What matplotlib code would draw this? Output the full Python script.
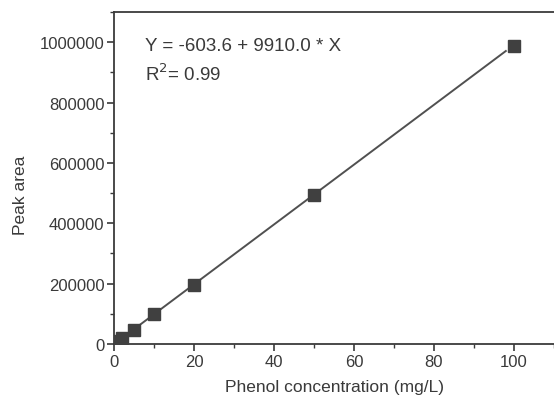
import numpy as np
import matplotlib.pyplot as plt
from matplotlib.ticker import MultipleLocator, FuncFormatter

# Calibration data: phenol standards and measured peak areas
concentration = [0.5, 1, 2, 5, 10, 20, 50, 100]  # mg/L
peak_area = [5000, 10000, 21000, 47000, 98000, 195000, 495000, 986000]

# Linear fit parameters
intercept = -603.6
slope = 9910.0
r_squared = 0.99
fit_range = [0, 98]

x_ticks = [0, 20, 40, 60, 80, 100]
y_ticks = [0, 200000, 400000, 600000, 800000, 1000000]

ink = '#3a3a3a'
plt.rcParams['font.family'] = ['Liberation Sans', 'DejaVu Sans']
plt.rcParams['text.color'] = ink
plt.rcParams['axes.labelcolor'] = ink
plt.rcParams['xtick.color'] = ink
plt.rcParams['ytick.color'] = ink

fig = plt.figure(figsize=(5.54, 4.02), dpi=100)
ax = fig.add_axes([0.2058, 0.1418, 0.866, 0.826])

x_fit = np.linspace(fit_range[0], fit_range[1], 50)
ax.plot(x_fit, intercept + slope * x_fit, color='#505050', lw=1.4, zorder=2)
ax.plot(concentration, peak_area, 's', color='#404040', ms=8, zorder=3)

ax.set_xlim(0, 120)
ax.set_ylim(0, 1100000)
ax.set_xticks(x_ticks)
ax.set_yticks(y_ticks)
ax.xaxis.set_minor_locator(MultipleLocator(10))
ax.yaxis.set_minor_locator(MultipleLocator(100000))
ax.yaxis.set_major_formatter(FuncFormatter(lambda v, p: f'{int(v)}'))

for s in ax.spines.values():
    s.set_color(ink)
    s.set_linewidth(1.3)
ax.spines['right'].set_visible(False)

ax.tick_params(which='major', direction='out', length=5, width=1.2, labelsize=12, pad=2)
ax.tick_params(which='minor', direction='out', length=3, width=1.0)

ax.set_xlabel('Phenol concentration (mg/L)', fontsize=12.5)
ax.xaxis.set_label_coords(0.46, -0.105)
ax.set_ylabel('Peak area', fontsize=12.5)
ax.yaxis.set_label_coords(-0.18, 0.45)

ax.text(0.065, 0.9, f'Y = {intercept} + {slope} * X', transform=ax.transAxes,
        fontsize=13.5, va='center', ha='left')
ax.text(0.065, 0.815, f'R$^2$= {r_squared}', transform=ax.transAxes,
        fontsize=13.5, va='center', ha='left')

fig.savefig('out.png', dpi=100, facecolor='white')
